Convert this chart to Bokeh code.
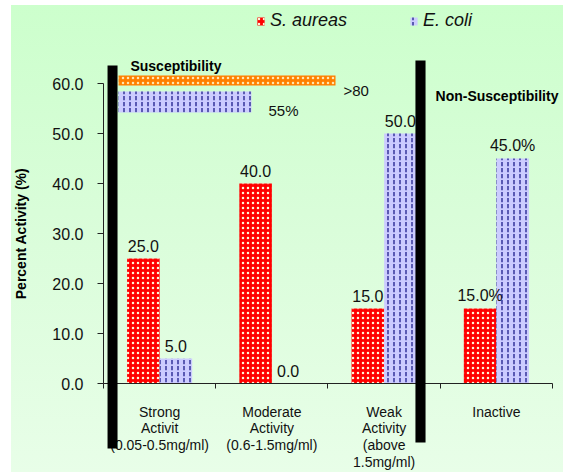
from bokeh.plotting import figure
from bokeh.models import (Range1d, FixedTicker, PrintfTickFormatter, BoxAnnotation,
                          Label, ColumnDataSource)
from bokeh.core.properties import value
from bokeh.embed import file_html
from bokeh.resources import INLINE

# ---------------- data ----------------
categories = ["Strong\nActivit\n(0.05-0.5mg/ml)",
              "Moderate\nActivity\n(0.6-1.5mg/ml)",
              "Weak\nActivity\n(above\n1.5mg/ml)",
              "Inactive"]
s_aureas = [25.0, 40.0, 15.0, 15.0]
e_coli = [5.0, 0.0, 50.0, 45.0]
s_aureas_labels = ["25.0", "40.0", "15.0", "15.0%"]
e_coli_labels = ["5.0", "0.0", "50.0", "45.0%"]
y_ticks = [0, 10, 20, 30, 40, 50, 60]
summary_labels = [">80", "55%"]

FONT = "Liberation Sans"
RED = "#ff0000"
BLUE = "#ccccff"

centers = [i + 0.5 for i in range(len(categories))]
bw = 0.29
src_s = ColumnDataSource(dict(x=[c - bw / 2 for c in centers], top=s_aureas, lab=s_aureas_labels))
src_e = ColumnDataSource(dict(x=[c + bw / 2 for c in centers], top=e_coli, lab=e_coli_labels))

p = figure(width=563, height=472, x_range=Range1d(-0.9176, 4.098), y_range=Range1d(-17.8, 76.6),
           output_backend="svg", toolbar_location=None, min_border=0)
p.outline_line_color = None
p.grid.visible = False
p.background_fill_color = None
p.border_fill_color = None
p.styles = {"background": "linear-gradient(to right, #ffffff 11px, transparent 11px), "
                          "linear-gradient(to bottom, #ffffff 5px, transparent 5px), "
                          "linear-gradient(to bottom, #ccffcc 0%, #d9fdd9 45%, #e8fee8 100%)"}

# bars
p.vbar(x="x", top="top", width=bw, source=src_s, fill_color=RED, line_color=None,
       hatch_pattern="dot", hatch_color="#fff4d8", hatch_scale=5, hatch_weight=2.2,
       legend_label="S. aureas")
p.vbar(x="x", top="top", width=bw, source=src_e, fill_color=BLUE, line_color=None,
       hatch_pattern="vertical_dash", hatch_color="#333399", hatch_scale=6, hatch_weight=1.5,
       legend_label="E. coli")

# value labels
for src in (src_s, src_e):
    p.text(x="x", y="top", text="lab", source=src, text_font=value(FONT), text_font_size="16px",
           text_align="center", text_baseline="alphabetic", y_offset=-13, text_color="#111111")

# axes
xa = p.xaxis[0]
xa.fixed_location = 0
xa.bounds = (0, 4)
xa.ticker = FixedTicker(ticks=centers, minor_ticks=[0, 1, 2, 3, 4])
xa.major_label_overrides = {c: lab for c, lab in zip(centers, categories)}
xa.major_tick_line_color = None
xa.major_tick_out = 0
xa.major_tick_in = 0
xa.minor_tick_out = 5
xa.minor_tick_in = 0
xa.minor_tick_line_color = "#222222"
xa.axis_line_color = "#222222"
xa.major_label_standoff = 15
xa.major_label_text_font = FONT
xa.major_label_text_font_size = "14px"
xa.major_label_text_line_height = 1.05
xa.major_label_text_color = "#111111"

ya = p.yaxis[0]
ya.fixed_location = 0
ya.bounds = (0, 60)
ya.ticker = FixedTicker(ticks=y_ticks, minor_ticks=[])
ya.formatter = PrintfTickFormatter(format="%.1f")
ya.major_tick_out = 6
ya.major_tick_in = 0
ya.major_tick_line_color = "#222222"
ya.axis_line_color = "#222222"
ya.major_label_standoff = 14
ya.major_label_text_font = FONT
ya.major_label_text_font_size = "16px"
ya.major_label_text_color = "#111111"
ya.axis_label = "Percent Activity (%)"
ya.axis_label_text_font = FONT
ya.axis_label_text_font_size = "14px"
ya.axis_label_text_font_style = "bold"
ya.axis_label_text_color = "#000000"
ya.axis_label_standoff = 20

# summary bars (annotations)
p.add_layout(BoxAnnotation(left=0.134, right=2.067, bottom=59.6, top=61.6, fill_color="#ff7f00",
                           fill_alpha=1, hatch_pattern="dot", hatch_color="#ffe6b0",
                           hatch_scale=5, hatch_weight=2, line_color=None))
p.add_layout(BoxAnnotation(left=0.134, right=1.318, bottom=54.2, top=58.4, fill_color=BLUE,
                           fill_alpha=1, hatch_pattern="vertical_dash", hatch_color="#333399",
                           hatch_scale=6, hatch_weight=1.5, line_color=None))

# separators
p.add_layout(BoxAnnotation(left=0.036, right=0.125, bottom=-13.0, top=63.6, fill_color="black",
                           fill_alpha=1, line_color=None))
p.add_layout(BoxAnnotation(left=2.779, right=2.869, bottom=-11.8, top=64.6, fill_color="black",
                           fill_alpha=1, line_color=None))

# texts
p.add_layout(Label(x=0.24, y=63.6, text="Susceptibility", text_font=FONT, text_font_size="14px",
                   text_font_style="bold", text_baseline="alphabetic", text_color="#000000"))
p.add_layout(Label(x=2.958, y=57.6, text="Non-Susceptibility", text_font=FONT, text_font_size="14px",
                   text_font_style="bold", text_baseline="alphabetic", text_color="#000000"))
p.add_layout(Label(x=2.138, y=58.6, text=summary_labels[0], text_font=FONT, text_font_size="15px",
                   text_baseline="alphabetic", text_color="#111111"))
p.add_layout(Label(x=1.47, y=54.6, text=summary_labels[1], text_font=FONT, text_font_size="15px",
                   text_baseline="alphabetic", text_color="#111111"))

# legend
lg = p.legend[0]
lg.orientation = "horizontal"
lg.location = (256, 441)
lg.background_fill_alpha = 0
lg.border_line_color = None
lg.padding = 0
lg.margin = 0
lg.spacing = 62
lg.glyph_width = 9
lg.glyph_height = 10
lg.label_standoff = 5
lg.label_text_font = FONT
lg.label_text_font_size = "18px"
lg.label_text_font_style = "italic"
lg.label_text_color = "#111111"

open("out.html", "w").write(file_html(p, INLINE))
